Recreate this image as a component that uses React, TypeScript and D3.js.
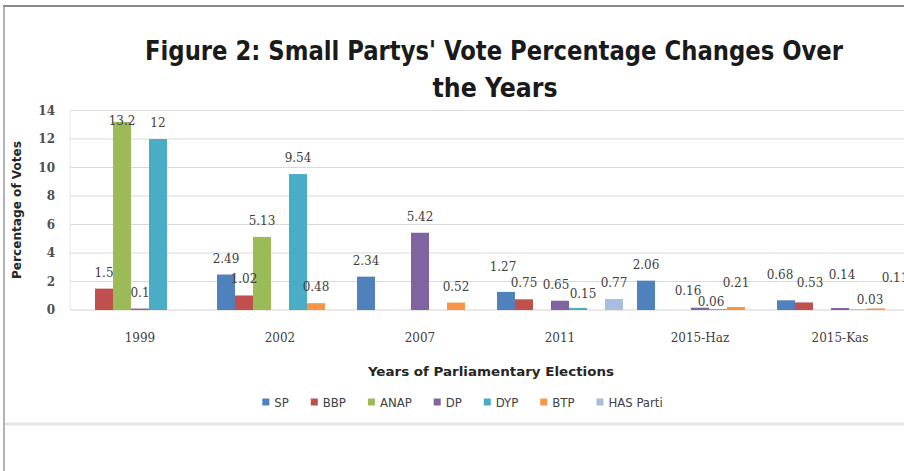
import React from 'react';
import * as d3 from 'd3';

// Election rounds on the x axis
const categories = ['1999', '2002', '2007', '2011', '2015-Haz', '2015-Kas'];

// Parties (one bar per party inside each election group)
const seriesNames = ['SP', 'BBP', 'ANAP', 'DP', 'DYP', 'BTP', 'HAS Parti'];

// Vote percentages per party; null = party not in that election
const spValues = [null, 2.49, 2.34, 1.27, 2.06, 0.68];
const bbpValues = [1.5, 1.02, null, 0.75, null, 0.53];
const anapValues = [13.2, 5.13, null, null, null, null];
const dpValues = [0.1, null, 5.42, 0.65, 0.16, 0.14];
const dypValues = [12, 9.54, null, 0.15, 0.06, 0.03];
const btpValues = [null, 0.48, 0.52, null, 0.21, 0.11];
const hasValues = [null, null, null, 0.77, null, null];

const yTicks = [0, 2, 4, 6, 8, 10, 12, 14];

const seriesValues: (number | null)[][] = [
  spValues, bbpValues, anapValues, dpValues, dypValues, btpValues, hasValues,
];

const seriesColors = ['#4f81bd', '#c0504d', '#9bbb59', '#8064a2', '#4bacc6', '#f79646', '#a9bde0'];

// Hand-placed data labels (dx, dy in px) where neighbours would collide
const labelNudge: Record<string, [number, number]> = {
  'SP|2011': [-3, -9],
  'DP|2011': [-4, 0],
  'DYP|2011': [5, 2],
  'DP|2015-Haz': [-12, -1],
  'DYP|2015-Haz': [-7, 9],
  'BTP|2015-Haz': [0, -8],
  'SP|2015-Kas': [-6, -9],
  'BBP|2015-Kas': [6, -3],
  'DP|2015-Kas': [2, -17],
  'DYP|2015-Kas': [12, 6],
  'BTP|2015-Kas': [19, -14],
};

const W = 904;
const H = 471;
const plot = { left: 70, right: 910, top: 110.5, bottom: 310 };

const serif = "'DejaVu Serif', 'Liberation Serif', serif";
const narrow = "'Liberation Sans Narrow', 'DejaVu Sans Condensed', 'Open Sans', sans-serif";
const sans = "'Liberation Sans Narrow', 'DejaVu Sans Condensed', 'Noto Sans', sans-serif";

function measure(text: string, font: string): number {
  const ctx = document.createElement('canvas').getContext('2d');
  if (!ctx) return text.length * 6;
  ctx.font = font;
  return ctx.measureText(text).width;
}

export default function App() {
  const x0 = d3.scaleBand<string>()
    .domain(categories)
    .range([plot.left, plot.right])
    .paddingInner(0.1)
    .paddingOuter(0.05);
  const x1 = d3.scaleBand<string>()
    .domain(seriesNames)
    .range([0, x0.bandwidth()]);
  const y = d3.scaleLinear().domain([0, 14]).range([plot.bottom, plot.top]);

  const bars: React.ReactNode[] = [];
  const labels: React.ReactNode[] = [];
  seriesNames.forEach((name, si) => {
    seriesValues[si].forEach((v, ci) => {
      if (v === null) return;
      const cat = categories[ci];
      const bx = (x0(cat) ?? 0) + (x1(name) ?? 0);
      const by = y(v);
      bars.push(
        <rect key={`b-${name}-${cat}`} x={bx} y={by} width={x1.bandwidth()}
          height={plot.bottom - by} fill={seriesColors[si]} />
      );
      const [dx, dy] = labelNudge[`${name}|${cat}`] ?? [0, 0];
      const ly = Math.max(by - 12, plot.top + 14) + dy;
      labels.push(
        <text key={`l-${name}-${cat}`} x={bx + x1.bandwidth() / 2 + dx} y={ly}
          textAnchor="middle" fontFamily={serif} fontSize={12} fill="#404040">
          {String(v)}
        </text>
      );
    });
  });

  // Legend laid out from measured text widths, centred under the plot
  const legendFont = `13px ${sans}`;
  const sw = 7;
  const swGap = 5;
  const itemGap = 22;
  const widths = seriesNames.map((n) => measure(n, legendFont));
  const total = widths.reduce((a, w) => a + sw + swGap + w, 0) + itemGap * (seriesNames.length - 1);
  let lx = 462.5 - total / 2;
  const legendItems = seriesNames.map((n, i) => {
    const xStart = lx;
    lx += sw + swGap + widths[i] + itemGap;
    return (
      <g key={`lg-${n}`} transform={`translate(${xStart},402)`}>
        <rect x={0} y={-sw / 2} width={sw} height={sw} fill={seriesColors[i]} />
        <text x={sw + swGap} y={4.5} fontFamily={sans} fontSize={13} fill="#404040">{n}</text>
      </g>
    );
  });

  return (
    <svg width={W} height={H} viewBox={`0 0 ${W} ${H}`}
      style={{ position: 'absolute', left: 0, top: 0, background: '#ffffff' }}>
      <rect x={0} y={0} width={W} height={H} fill="#ffffff" />

      {/* frame */}
      <line x1={3} x2={W} y1={6} y2={6} stroke="#8a8a8a" strokeWidth={2} />
      <line x1={4} x2={4} y1={6} y2={H} stroke="#9a9a9a" strokeWidth={1.5} />
      <line x1={5} x2={W} y1={424} y2={424} stroke="#e4e4e4" strokeWidth={3} />

      {/* title */}
      <text x={494} y={60} textAnchor="middle" fontFamily={narrow} fontWeight="bold"
        fontSize={27} fill="#1a1a1a" textLength={698} lengthAdjust="spacingAndGlyphs">
        Figure 2: Small Partys' Vote Percentage Changes Over
      </text>
      <text x={495} y={97} textAnchor="middle" fontFamily={narrow} fontWeight="bold"
        fontSize={27} fill="#1a1a1a" textLength={125} lengthAdjust="spacingAndGlyphs">
        the Years
      </text>

      {/* gridlines */}
      {yTicks.map((t) => (
        <line key={`g-${t}`} x1={plot.left} x2={plot.right} y1={y(t)} y2={y(t)}
          stroke={t === 0 ? '#d8cfc8' : '#d9d9d9'} strokeWidth={1} />
      ))}
      <line x1={plot.left} x2={plot.left} y1={plot.top} y2={plot.bottom} stroke="#e6e6e6" />

      {/* y tick labels */}
      {yTicks.map((t) => (
        <text key={`yt-${t}`} x={55} y={y(t) + 4} textAnchor="end" fontFamily={serif}
          fontSize={12} fontWeight="bold" fill="#505050">{t}</text>
      ))}

      {/* bars and data labels */}
      {bars}
      {labels}

      {/* x tick labels */}
      {categories.map((c) => (
        <text key={`xt-${c}`} x={(x0(c) ?? 0) + x0.bandwidth() / 2} y={342}
          textAnchor="middle" fontFamily={serif} fontSize={12} fill="#404040">{c}</text>
      ))}

      {/* axis titles */}
      <text x={491} y={376} textAnchor="middle" fontFamily={sans} fontWeight="bold"
        fontSize={13} fill="#262626" textLength={246} lengthAdjust="spacingAndGlyphs">
        Years of Parliamentary Elections
      </text>
      <text transform="translate(21,210) rotate(-90)" textAnchor="middle" fontFamily={sans}
        fontWeight="bold" fontSize={12} fill="#262626" textLength={138} lengthAdjust="spacingAndGlyphs">
        Percentage of Votes
      </text>

      {/* legend */}
      {legendItems}
    </svg>
  );
}
